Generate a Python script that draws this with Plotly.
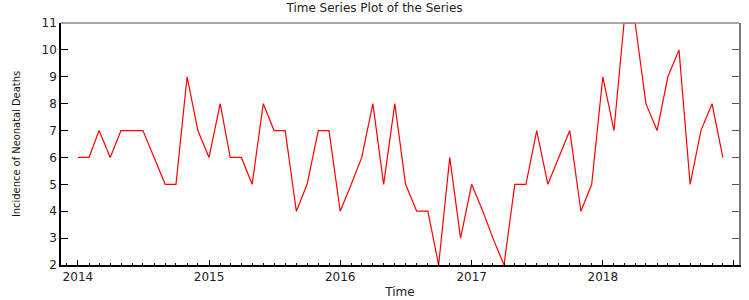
import pandas as pd
import plotly.graph_objects as go

start_month = "2014-01-01"
n_months = 60
deaths = [
    6, 6, 7, 6, 7, 7, 7, 6, 5, 5, 9, 7,      # 2014
    6, 8, 6, 6, 5, 8, 7, 7, 4, 5, 7, 7,      # 2015
    4, 5, 6, 8, 5, 8, 5, 4, 4, 2, 6, 3,      # 2016
    5, 4, 3, 2, 5, 5, 7, 5, 6, 7, 4, 5,      # 2017
    9, 7, 11, 11, 8, 7, 9, 10, 5, 7, 8, 6,   # 2018
]
y_ticks = list(range(2, 12))
title_text = "Time Series Plot of the Series"
x_title = "Time"
y_title = "Incidence of Neonatal Deaths"

months = pd.date_range(start_month, periods=n_months, freq="MS")

FONT = "DejaVu Sans"
fig = go.Figure()
fig.add_trace(go.Scatter(x=months, y=deaths, mode="lines",
                         line=dict(color="#ff0000", width=1.2),
                         showlegend=False, cliponaxis=True))
fig.add_trace(go.Scatter(x=months[:1], y=deaths[:1], yaxis="y2", mode="lines",
                         line=dict(width=0), showlegend=False, hoverinfo="skip"))

x_range = ["2013-11-15", "2019-01-15"]
y_range = [2, 11]

fig.update_layout(
    width=749, height=300,
    margin=dict(l=61, r=10, t=23, b=35),
    paper_bgcolor="white", plot_bgcolor="white",
    title=dict(text=title_text, x=0.5, xanchor="center", y=1 - 8/300, yanchor="middle",
               font=dict(family=FONT, size=12, color="#222")),
    xaxis=dict(
        type="date", range=x_range, showgrid=False, zeroline=False, automargin=False,
        showline=True, linecolor="black", linewidth=1.5,
        ticks="inside", ticklen=5, tickcolor="black", tickwidth=1,
        dtick="M12", tick0="2014-01-01", tickformat="%Y",
        tickfont=dict(family=FONT, size=12, color="#222"),
        minor=dict(ticks="inside", ticklen=2.5, dtick="M1", tick0="2013-12-01",
                   tickcolor="black", showgrid=False),
        title=dict(text=x_title, font=dict(family=FONT, size=12, color="#222"), standoff=4),
    ),
    yaxis=dict(
        range=y_range, showgrid=False, zeroline=False, automargin=False,
        showline=True, linecolor="black", linewidth=1.5,
        ticks="inside", ticklen=7, tickcolor="black",
        tickvals=y_ticks, ticktext=[str(v) for v in y_ticks],
        tickfont=dict(family=FONT, size=12, color="#222"),
        title=dict(text=y_title,
                   font=dict(family="DejaVu Sans Condensed, Liberation Sans", size=11, color="#111"),
                   standoff=19),
    ),
    yaxis2=dict(
        range=y_range, overlaying="y", side="right", showgrid=False, zeroline=False,
        automargin=False,
        showline=True, linecolor="#777", linewidth=1.5,
        ticks="inside", ticklen=7, tickcolor="#555",
        tickvals=y_ticks, showticklabels=False,
    ),
    shapes=[dict(type="line", xref="paper", yref="paper", x0=0, x1=1, y0=1, y1=1,
                 line=dict(color="#888", width=1.5))],
)

fig.write_html("out.html", config={"displayModeBar": False},
               post_script="document.body.style.margin='0';document.body.style.padding='0';")
